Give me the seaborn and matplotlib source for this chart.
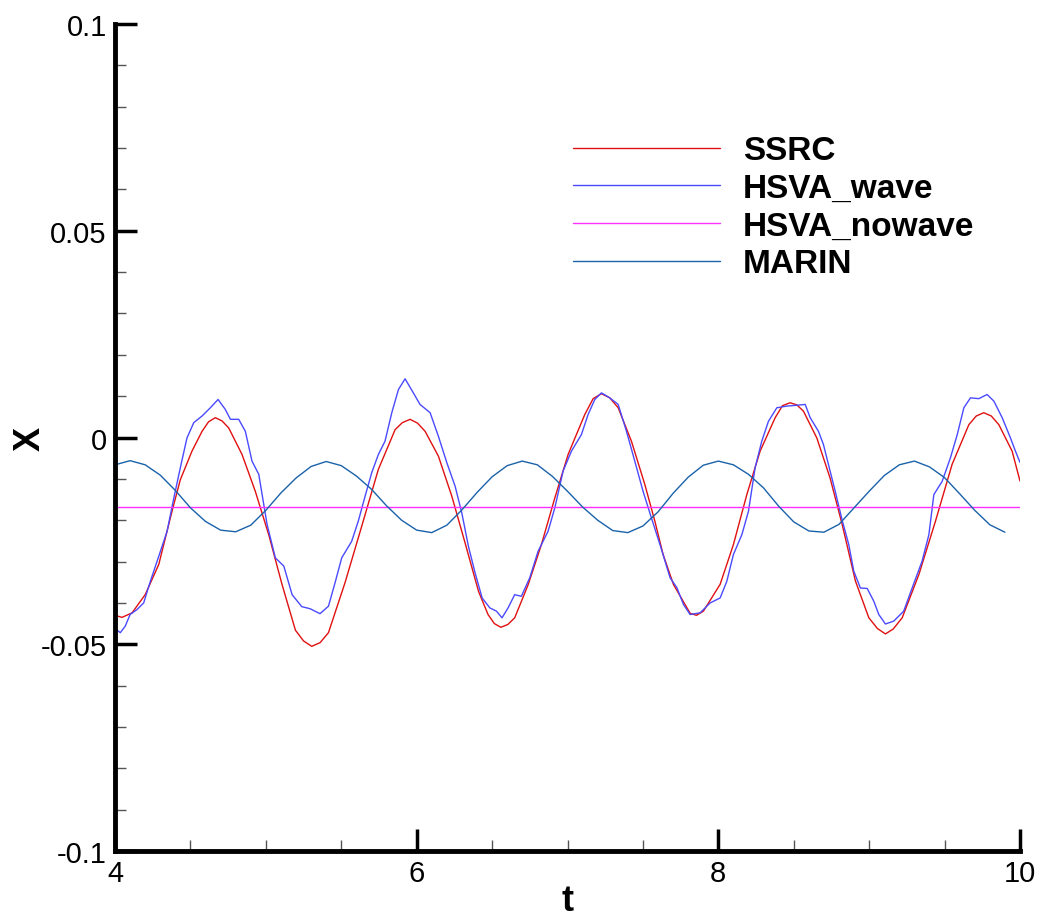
import numpy as np
import pandas as pd
import matplotlib
matplotlib.use("Agg")
import matplotlib.pyplot as plt
from matplotlib.ticker import MultipleLocator, FixedLocator
import seaborn as sns

# ---- series data -------------------------------------------------------
ssrc_t = [4.0, 4.046, 4.113, 4.2, 4.29, 4.378, 4.433, 4.51, 4.577, 4.62,
          4.665, 4.71, 4.754, 4.842, 4.93, 5.019, 5.107, 5.196, 5.25, 5.304,
          5.36, 5.415, 5.525, 5.636, 5.746, 5.857, 5.905, 5.956, 6.005, 6.056,
          6.144, 6.233, 6.321, 6.41, 6.473, 6.515, 6.558, 6.605, 6.65, 6.739,
          6.827, 6.916, 7.004, 7.115, 7.17, 7.225, 7.28, 7.336, 7.424, 7.513,
          7.579, 7.634, 7.702, 7.813, 7.855, 7.901, 8.012, 8.1, 8.189, 8.277,
          8.377, 8.425, 8.476, 8.52, 8.564, 8.653, 8.741, 8.821, 8.909, 8.998,
          9.055, 9.108, 9.16, 9.219, 9.33, 9.44, 9.55, 9.661, 9.71, 9.76,
          9.81, 9.86, 9.948, 10.0]
ssrc_x = [-0.0430, -0.0435, -0.0424, -0.0380, -0.0307, -0.0178, -0.0102, -0.0033, 0.0015, 0.0038,
          0.0048, 0.0040, 0.0023, -0.0041, -0.0130, -0.0235, -0.0355, -0.0466, -0.0492, -0.0505,
          -0.0496, -0.0472, -0.0351, -0.0214, -0.0077, 0.0019, 0.0036, 0.0044, 0.0035, 0.0015,
          -0.0045, -0.0142, -0.0255, -0.0372, -0.0428, -0.0450, -0.0459, -0.0452, -0.0436, -0.0356,
          -0.0259, -0.0146, -0.0041, 0.0056, 0.0094, 0.0106, 0.0096, 0.0072, -0.0009, -0.0114,
          -0.0202, -0.0283, -0.0355, -0.0425, -0.0430, -0.0420, -0.0355, -0.0259, -0.0138, -0.0033,
          0.0048, 0.0077, 0.0084, 0.0079, 0.0064, -0.0001, -0.0098, -0.0210, -0.0347, -0.0436,
          -0.0462, -0.0475, -0.0463, -0.0436, -0.0331, -0.0202, -0.0065, 0.0031, 0.0052, 0.0060,
          0.0052, 0.0031, -0.0033, -0.0105]

hsva_wave_t = [4.0, 4.035, 4.068, 4.1, 4.146, 4.19, 4.234, 4.279, 4.345, 4.39,
               4.433, 4.477, 4.522, 4.577, 4.632, 4.683, 4.731, 4.765, 4.82, 4.864,
               4.908, 4.953, 5.008, 5.063, 5.119, 5.174, 5.238, 5.293, 5.359, 5.415,
               5.459, 5.503, 5.569, 5.613, 5.658, 5.702, 5.746, 5.79, 5.835, 5.879,
               5.923, 5.978, 6.022, 6.089, 6.144, 6.2, 6.255, 6.299, 6.343, 6.387,
               6.434, 6.485, 6.529, 6.566, 6.606, 6.65, 6.694, 6.75, 6.805, 6.871,
               6.916, 6.971, 7.026, 7.092, 7.137, 7.181, 7.225, 7.28, 7.336, 7.391,
               7.446, 7.501, 7.556, 7.614, 7.68, 7.725, 7.769, 7.813, 7.879, 7.946,
               8.012, 8.056, 8.1, 8.156, 8.2, 8.244, 8.288, 8.332, 8.388, 8.454,
               8.52, 8.576, 8.609, 8.664, 8.697, 8.73, 8.775, 8.821, 8.865, 8.898,
               8.942, 8.987, 9.031, 9.064, 9.108, 9.163, 9.229, 9.285, 9.351, 9.396,
               9.429, 9.484, 9.539, 9.584, 9.628, 9.672, 9.727, 9.782, 9.827, 9.882,
               9.937, 9.97, 10.0]
hsva_wave_x = [-0.0462, -0.0472, -0.0456, -0.0428, -0.0416, -0.0400, -0.0348, -0.0299, -0.0227, -0.0146,
               -0.0073, -0.0001, 0.0036, 0.0052, 0.0072, 0.0092, 0.0068, 0.0044, 0.0044, 0.0015,
               -0.0057, -0.0089, -0.0210, -0.0291, -0.0311, -0.0380, -0.0409, -0.0414, -0.0426, -0.0408,
               -0.0351, -0.0291, -0.0251, -0.0202, -0.0142, -0.0085, -0.0041, -0.0009, 0.0060, 0.0116,
               0.0142, 0.0108, 0.0080, 0.0060, 0.0003, -0.0061, -0.0118, -0.0182, -0.0263, -0.0327,
               -0.0388, -0.0412, -0.0420, -0.0436, -0.0412, -0.0380, -0.0384, -0.0339, -0.0275, -0.0227,
               -0.0170, -0.0081, -0.0033, 0.0007, 0.0056, 0.0092, 0.0108, 0.0096, 0.0080, 0.0015,
               -0.0057, -0.0130, -0.0194, -0.0260, -0.0339, -0.0363, -0.0404, -0.0428, -0.0424, -0.0400,
               -0.0388, -0.0348, -0.0283, -0.0235, -0.0178, -0.0073, -0.0009, 0.0039, 0.0072, 0.0076,
               0.0078, 0.0080, 0.0048, 0.0015, -0.0017, -0.0065, -0.0130, -0.0200, -0.0259, -0.0323,
               -0.0364, -0.0365, -0.0396, -0.0428, -0.0451, -0.0444, -0.0420, -0.0364, -0.0299, -0.0235,
               -0.0138, -0.0106, -0.0049, 0.0007, 0.0072, 0.0096, 0.0094, 0.0104, 0.0088, 0.0048,
               -0.0001, -0.0033, -0.0060]

hsva_nowave_t = [4.0, 10.0]
hsva_nowave_x = [-0.0168, -0.0168]

marin_t = [4.0, 4.1, 4.2, 4.3, 4.4, 4.5, 4.6, 4.7, 4.8, 4.9,
           5.0, 5.1, 5.2, 5.3, 5.4, 5.5, 5.6, 5.7, 5.8, 5.9,
           6.0, 6.1, 6.2, 6.3, 6.4, 6.5, 6.6, 6.7, 6.8, 6.9,
           7.0, 7.1, 7.2, 7.3, 7.4, 7.5, 7.6, 7.7, 7.8, 7.9,
           8.0, 8.1, 8.2, 8.3, 8.4, 8.5, 8.6, 8.7, 8.8, 8.9,
           9.0, 9.1, 9.2, 9.3, 9.4, 9.5, 9.6, 9.7, 9.8, 9.9]
marin_x = [-0.0066, -0.0056, -0.0066, -0.0091, -0.0128, -0.0170, -0.0203, -0.0224, -0.0228, -0.0212,
           -0.0176, -0.0134, -0.0098, -0.0070, -0.0058, -0.0068, -0.0093, -0.0125, -0.0165, -0.0200,
           -0.0224, -0.0230, -0.0212, -0.0175, -0.0133, -0.0095, -0.0068, -0.0057, -0.0066, -0.0094,
           -0.0130, -0.0168, -0.0200, -0.0225, -0.0230, -0.0214, -0.0180, -0.0135, -0.0096, -0.0067,
           -0.0057, -0.0066, -0.0089, -0.0122, -0.0166, -0.0204, -0.0226, -0.0229, -0.0210, -0.0170,
           -0.0130, -0.0092, -0.0066, -0.0057, -0.0071, -0.0097, -0.0136, -0.0176, -0.0211, -0.0229]

series_names = ["SSRC", "HSVA_wave", "HSVA_nowave", "MARIN"]
series_colors = ["#e01010", "#4a4aff", "#ff30ff", "#1a62aa"]

frames = []
for name, tt, xx in zip(series_names,
                        [ssrc_t, hsva_wave_t, hsva_nowave_t, marin_t],
                        [ssrc_x, hsva_wave_x, hsva_nowave_x, marin_x]):
    frames.append(pd.DataFrame({"t": tt, "X": xx, "series": name}))
df = pd.concat(frames, ignore_index=True)

# ---- figure ------------------------------------------------------------
sns.set_theme(style="white")
plt.rcParams["font.family"] = ["Liberation Sans", "DejaVu Sans"]
plt.rcParams["text.color"] = "black"
plt.rcParams["axes.labelcolor"] = "black"

fig = plt.figure(figsize=(10.41, 9.2), dpi=100)
ax = fig.add_axes([0.1105, 0.0739, 0.8693, 0.8989])

sns.lineplot(data=df, x="t", y="X", hue="series", hue_order=series_names,
             palette=dict(zip(series_names, series_colors)),
             estimator=None, sort=False, linewidth=1.0, ax=ax)

ax.set_xlim(4, 10)
ax.set_ylim(-0.1, 0.1)

ax.xaxis.set_major_locator(FixedLocator([4, 6, 8, 10]))
ax.xaxis.set_minor_locator(MultipleLocator(0.5))
ax.yaxis.set_major_locator(FixedLocator([-0.1, -0.05, 0, 0.05, 0.1]))
ax.yaxis.set_minor_locator(MultipleLocator(0.01))
ax.set_xticklabels(["4", "6", "8", "10"])
ax.set_yticklabels(["-0.1", "-0.05", "0", "0.05", "0.1"])

for side in ["top", "right"]:
    ax.spines[side].set_visible(False)
for side in ["left", "bottom"]:
    ax.spines[side].set_linewidth(3.5)
    ax.spines[side].set_color("black")

ax.tick_params(which="major", direction="in", length=16, width=2.5,
               labelsize=21, colors="black", pad=6)
ax.tick_params(which="minor", direction="in", length=8, width=1.0, color="#555555")
ax.tick_params(axis="x", which="both", bottom=True, top=False)
ax.tick_params(axis="y", which="both", left=True, right=False)

ax.set_xlabel("t", fontsize=26, fontweight="bold", va="baseline", color="black")
ax.xaxis.set_label_coords(0.5, -0.071)
ax.set_ylabel("X", fontsize=26, fontweight="bold", va="center", color="black")
ax.yaxis.set_label_coords(-0.094, 0.5)

leg = ax.legend(loc="upper left", bbox_to_anchor=(0.4914, 0.8815), frameon=False,
                fontsize=24, handlelength=4.4, handletextpad=0.7,
                labelspacing=0.2, borderaxespad=0)
for txt in leg.get_texts():
    txt.set_fontweight("bold")
    txt.set_color("black")
for ln in leg.get_lines():
    ln.set_linewidth(1.0)

fig.savefig("out.png", dpi=100)
